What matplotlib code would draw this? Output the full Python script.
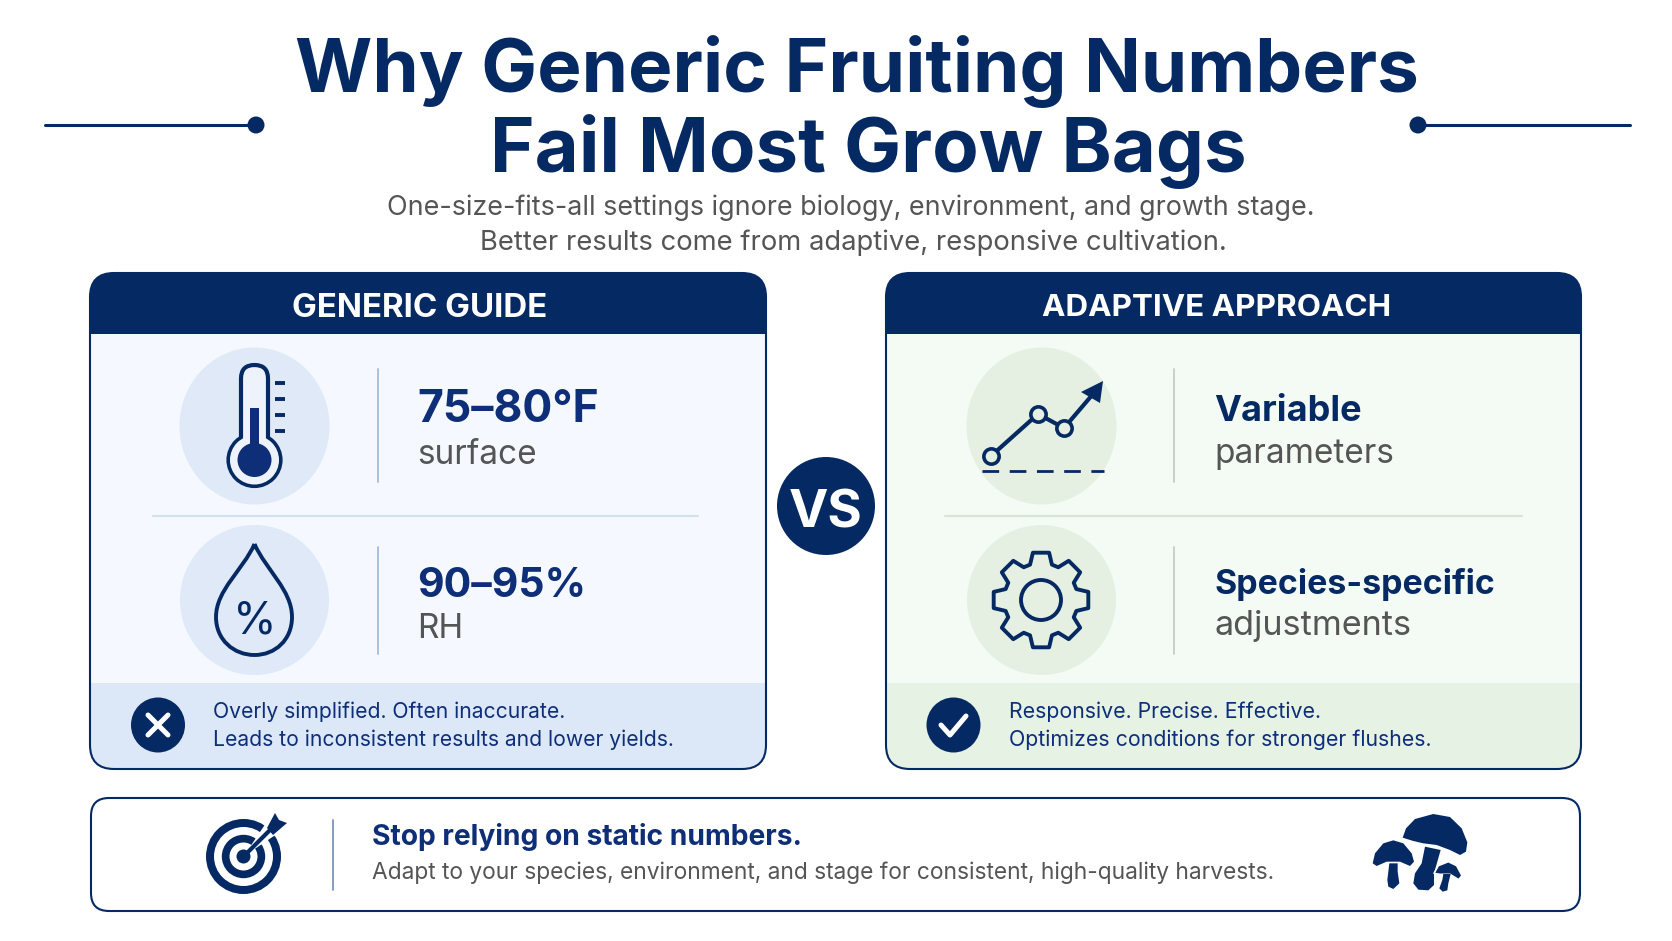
#!/usr/bin/env python3
import numpy as np
import matplotlib
matplotlib.use('Agg')
import matplotlib.pyplot as plt
from matplotlib.patches import FancyBboxPatch, Rectangle, Ellipse, Circle, Polygon, PathPatch
from matplotlib.path import Path

# texts
title_lines = ["Why Generic Fruiting Numbers", "Fail Most Grow Bags"]
subtitle_lines = ["One-size-fits-all settings ignore biology, environment, and growth stage.",
                  "Better results come from adaptive, responsive cultivation."]
left_head = "GENERIC GUIDE"
right_head = "ADAPTIVE APPROACH"
left_main = ["75–80°F", "90–95%"]
left_sub = ["surface", "RH"]
right_main = ["Variable", "Species-specific"]
right_sub = ["parameters", "adjustments"]
left_foot = ["Overly simplified. Often inaccurate.", "Leads to inconsistent results and lower yields."]
right_foot = ["Responsive. Precise. Effective.", "Optimizes conditions for stronger flushes."]
bottom_head = "Stop relying on static numbers."
bottom_sub = "Adapt to your species, environment, and stage for consistent, high-quality harvests."

# trend icon
trend_x = [991, 1038, 1064, 1102]
trend_y = [456, 414, 428, 382]

# mushroom outlines, in px of a 3x crop at (1360, 805)
big_cap = [(128, 98), (138, 70), (165, 42), (220, 27), (270, 36), (305, 70), (322, 112), (318, 140),
           (300, 150), (270, 135), (230, 120), (190, 115), (160, 108)]
big_stem = [(195, 125), (242, 135), (232, 170), (222, 205), (222, 240), (205, 256), (175, 254), (160, 235),
            (165, 205), (185, 175)]
left_cap = [(38, 175), (45, 145), (70, 115), (100, 106), (130, 115), (155, 145), (162, 170), (150, 183),
            (120, 170), (80, 170), (50, 183)]
left_stem = [(88, 175), (113, 175), (113, 200), (118, 235), (100, 252), (85, 245), (82, 225)]
right_cap = [(222, 205), (235, 182), (265, 170), (290, 182), (306, 212), (296, 224), (270, 208), (240, 208)]
right_stem = [(250, 207), (272, 207), (265, 235), (262, 256), (248, 260), (238, 250), (247, 225)]

NAVY = "#052A63"
BLUE = "#0E2F78"
GREY = "#555555"
FONT = "Inter"

fig = plt.figure(figsize=(16.72, 9.41), dpi=100, facecolor="white")
ax = fig.add_axes([0, 0, 1, 1])
ax.set_xlim(0, 1672)
ax.set_ylim(941, 0)
ax.axis("off")


def txt(x, y, s, size, color=NAVY, weight="normal", ha="left"):
    return ax.text(x, y, s, fontsize=size, color=color, fontweight=weight, ha=ha, va="center_baseline", family=FONT)


def line(xs, ys, color=NAVY, lw=2.0, **kw):
    kw.setdefault("solid_capstyle", "round")
    ax.plot(xs, ys, color=color, lw=lw, **kw)


def panel(x0, x1, head, head_size, bg, foot_bg, circ, head_x, ring_x):
    y0, y1 = 273, 769
    box = FancyBboxPatch((x0, y0), x1 - x0, y1 - y0, boxstyle="round,pad=0,rounding_size=24",
                         fc=bg, ec="none", zorder=1)
    ax.add_patch(box)
    for (top, bot, col) in [(y0, 334, NAVY), (683, y1, foot_bg)]:
        r = Rectangle((x0, top), x1 - x0, bot - top, fc=col, ec="none", zorder=2)
        ax.add_patch(r)
        r.set_clip_path(box)
    ax.add_patch(FancyBboxPatch((x0, y0), x1 - x0, y1 - y0, boxstyle="round,pad=0,rounding_size=24",
                                fc="none", ec=NAVY, lw=1.5, zorder=3))
    txt(head_x, 305, head, head_size, color="white", weight="bold", ha="center")
    ax.add_patch(Ellipse((ring_x, 426), 150, 157, fc=circ, ec="none", zorder=2))
    ax.add_patch(Ellipse((ring_x, 600), 149, 150, fc=circ, ec="none", zorder=2))


def mush(pts, **kw):
    xy = [(1360 + x / 3, 805 + y / 3) for x, y in pts]
    ax.add_patch(Polygon(xy, closed=True, fc=NAVY, joinstyle="round", **kw))


# header
for y, s, x, sz in zip([63, 143], title_lines, [857, 868], [53.7, 54.8]):
    txt(x, y, s, sz, weight="bold", ha="center")
for y, s, x, sz in zip([205, 240], subtitle_lines, [851, 853], [19.35, 19.7]):
    txt(x, y, s, sz, color=GREY, ha="center")
line([45, 256], [125, 125], lw=2.2)
line([1418, 1630], [125, 125], lw=2.2)
ax.add_patch(Circle((256, 125), 8.5, fc=NAVY, ec="none"))
ax.add_patch(Circle((1418, 125), 8.5, fc=NAVY, ec="none"))

# panels
panel(90, 766, left_head, 23.8, "#F5F9FF", "#DCE7F8", "#DFE9F7", 420, 254.5)
panel(886, 1581, right_head, 22.6, "#F4FBF4", "#E6F2E4", "#E5F0E2", 1217, 1041.5)

# dividers
for x, c in [(378, "#A9C0DE"), (1174, "#C6D2C6")]:
    line([x, x], [369, 482], color=c, lw=1.4, zorder=4)
    line([x, x], [547, 654], color=c, lw=1.4, zorder=4)
line([153, 698], [516, 516], color="#D3E0F0", lw=1.6, zorder=4)
line([945, 1522], [516, 516], color="#D9E4D8", lw=1.6, zorder=4)

# panel texts
for y, s, sz in zip([406, 582], left_main, [32, 29.5]):
    txt(417, y, s, sz, color=BLUE, weight="bold")
for y, s in zip([451, 625], left_sub):
    txt(417, y, s, 24, color=GREY)
for y, s, sz in zip([408, 581], right_main, [26, 24.4]):
    txt(1214, y, s, sz, color=NAVY, weight="bold")
for y, s, sz in zip([450, 623], right_sub, [24, 24.6]):
    txt(1214, y, s, sz, color=GREY)
for y, s in zip([710, 738], left_foot):
    txt(213, y, s, 15.2, color=BLUE)
for y, s in zip([710, 738], right_foot):
    txt(1009, y, s, 15.35, color=BLUE)

# thermometer
tx = 254.5
ax.add_patch(Circle((tx, 460), 26, fc="none", ec=NAVY, lw=3, zorder=5))
ax.add_patch(FancyBboxPatch((tx - 13.5, 365), 27, 90, boxstyle="round,pad=0,rounding_size=13.5",
                            fc="#EEF3FB", ec=NAVY, lw=3, zorder=5))
ax.add_patch(Circle((tx, 460), 24.5, fc="#EEF3FB", ec="none", zorder=5))
ax.add_patch(Circle((tx, 460), 17, fc=BLUE, ec="none", zorder=6))
ax.add_patch(Rectangle((tx - 4.5, 408), 9, 45, fc=BLUE, ec="none", zorder=6))
for y in [383, 399, 415, 431]:
    line([275, 285], [y, y], lw=2.8, zorder=5, solid_capstyle="butt")

# droplet
drop = Path([(254.5, 544), (243, 570), (216, 590), (216, 617), (216, 640), (234, 655), (254.5, 655),
             (275, 655), (292, 640), (292, 617), (292, 590), (266, 570), (254.5, 544)],
            [1, 4, 4, 4, 4, 4, 4, 4, 4, 4, 4, 4, 4])
ax.add_patch(PathPatch(drop, fc="none", ec=NAVY, lw=2.8, zorder=5))
txt(254.5, 617, "%", 32, ha="center").set_zorder(6)

# trend icon
line(trend_x[:3] + [trend_x[3] - 3], trend_y[:3] + [trend_y[3] + 5], lw=3, zorder=5)
ax.add_patch(Polygon([(1103, 381), (1100, 403), (1081, 392)], fc=NAVY, ec="none", zorder=6))
ax.plot(trend_x[:3], trend_y[:3], "o", ms=11, mfc="#E5F0E2", mec=NAVY, mew=2.6, zorder=6)
ax.plot([982, 1104], [471, 471], color=NAVY, lw=2, dashes=(6, 3.8), zorder=5)

# gear
gx, gy = 1041, 600
n_teeth = 8
pts = []
for i in range(n_teeth):
    a = 2 * np.pi * i / n_teeth - np.pi / 2
    for da, r in [(-0.30, 37), (-0.17, 48), (0.17, 48), (0.30, 37)]:
        pts.append((gx + r * np.cos(a + da), gy + r * np.sin(a + da)))
ax.add_patch(Polygon(pts, closed=True, fc="none", ec=NAVY, lw=2.8, joinstyle="round", zorder=5))
ax.add_patch(Circle((gx, gy), 20, fc="none", ec=NAVY, lw=2.8, zorder=5))

# footer badges
ax.add_patch(Ellipse((158, 725), 54, 55, fc=NAVY, ec="none", zorder=5))
line([148, 168], [715, 735], color="white", lw=3.6, zorder=6)
line([148, 168], [735, 715], color="white", lw=3.6, zorder=6)
ax.add_patch(Ellipse((953.5, 725), 54, 55, fc=NAVY, ec="none", zorder=5))
line([941, 950, 966], [725, 735, 716], color="white", lw=3.6, zorder=6)

# VS
ax.add_patch(Circle((826, 506), 49, fc=NAVY, ec="white", lw=0, zorder=6))
txt(826, 509, "VS", 38, color="white", weight="bold", ha="center").set_zorder(7)

# bottom box
ax.add_patch(FancyBboxPatch((91, 798), 1489, 113, boxstyle="round,pad=0,rounding_size=18",
                            fc="white", ec=NAVY, lw=1.5, zorder=1))
line([333, 333], [820, 890], color="#6F8BB5", lw=1.2)
txt(372, 834, bottom_head, 20.3, color=BLUE, weight="bold")
txt(372, 870, bottom_sub, 16.4, color=GREY)

# target
cx, cy = 243.5, 856.5
for r, c in [(37.5, NAVY), (29.5, "white"), (21.7, NAVY), (14, "white")]:
    ax.add_patch(Circle((cx, cy), r, fc=c, ec="none", zorder=3))
ang = np.radians([-56, -34])
ax.add_patch(Polygon([(cx, cy), (cx + 42 * np.cos(ang[0]), cy + 42 * np.sin(ang[0])),
                      (cx + 42 * np.cos(ang[1]), cy + 42 * np.sin(ang[1]))], fc="white", ec="none", zorder=4))
ax.add_patch(Circle((cx, cy), 7, fc=NAVY, ec="none", zorder=5))
line([cx, 270], [cy, 830], lw=3, zorder=5)
ax.add_patch(Polygon([(267, 828), (275, 813), (279, 820), (287, 823), (273, 835)], fc=NAVY, ec="none", zorder=5))

# mushrooms
mush(big_cap, ec="none", zorder=5)
mush(big_stem, ec="none", zorder=5)
mush(left_cap, ec="none", zorder=5)
mush(left_stem, ec="none", zorder=5)
mush(right_cap, ec="white", lw=1.2, zorder=6)
mush(right_stem, ec="none", zorder=6)

fig.savefig("out.png", dpi=100)
